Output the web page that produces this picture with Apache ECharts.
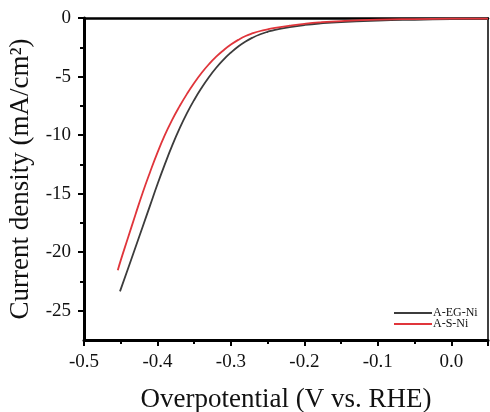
<!DOCTYPE html>
<html>
<head>
<meta charset="utf-8">
<script src="https://cdn.jsdelivr.net/npm/echarts@6/dist/echarts.min.js"></script>
<style>
html, body { margin: 0; padding: 0; background: #fff; }
#chart { width: 490px; height: 412px; }
</style>
</head>
<body>
<div id="chart"></div>
<script>
// A-EG-Ni polarization curve (V vs. RHE, mA/cm2)
let egNiX = [-0.451, -0.44, -0.43, -0.42, -0.41, -0.40, -0.39, -0.38, -0.37, -0.36, -0.35, -0.34, -0.33, -0.32, -0.31, -0.30, -0.29, -0.28, -0.27, -0.26, -0.25, -0.24, -0.22, -0.20, -0.18, -0.15, -0.10, -0.05, 0.0, 0.05]
let egNiY = [-23.35, -21.4, -19.6, -17.8, -16.0, -14.2, -12.5, -10.9, -9.45, -8.15, -7.0, -5.98, -5.06, -4.25, -3.55, -2.95, -2.43, -2.0, -1.66, -1.39, -1.18, -1.01, -0.78, -0.6, -0.47, -0.34, -0.22, -0.15, -0.1, -0.08]
// A-S-Ni
let sNiX = [-0.454, -0.45, -0.44, -0.43, -0.42, -0.41, -0.40, -0.39, -0.38, -0.37, -0.36, -0.35, -0.34, -0.33, -0.32, -0.31, -0.30, -0.29, -0.28, -0.27, -0.26, -0.25, -0.24, -0.22, -0.20, -0.18, -0.15, -0.10, -0.05, 0.0, 0.05]
let sNiY = [-21.55, -20.7, -18.75, -16.8, -14.9, -13.15, -11.5, -10.0, -8.7, -7.55, -6.5, -5.55, -4.7, -3.95, -3.3, -2.75, -2.27, -1.87, -1.54, -1.3, -1.11, -0.97, -0.85, -0.66, -0.5, -0.38, -0.26, -0.14, -0.09, -0.06, -0.05]

let seriesNames = ['A-EG-Ni', 'A-S-Ni']
let seriesColors = ['#3c3c3c', '#e0353b']

// y ticks: labelled majors and unlabelled minors
let yMajor = [0, -5, -10, -15, -20, -25]
let yMinor = [-2.5, -7.5, -12.5, -17.5, -22.5]

let font = '"Liberation Serif", "DejaVu Serif", serif'

let pairs = (xs, ys) => xs.map((x, i) => [x, ys[i]])

let chart = echarts.init(document.getElementById('chart'))
let option = {
	backgroundColor: '#fff',
	animation: false,
	color: seriesColors,
	grid: {
		left: 84,
		top: 18,
		right: 2,
		bottom: 72,
		containLabel: false,
		outerBoundsMode: 'none'
	},
	legend: {
		orient: 'vertical',
		left: 389,
		top: 302,
		itemWidth: 38,
		itemHeight: 2,
		itemGap: -1,
		icon: 'rect',
		textStyle: {
			fontFamily: font,
			fontSize: 12,
			lineHeight: 12,
			color: '#111',
			padding: [0, 0, 0, -4]
		},
		data: seriesNames
	},
	xAxis: [{
			type: 'value',
			min: -0.5,
			max: 0.05,
			interval: 0.1,
			position: 'bottom',
			name: 'Overpotential (V vs. RHE)',
			nameLocation: 'middle',
			nameGap: 46,
			nameTextStyle: {
				fontFamily: font,
				fontSize: 27,
				color: '#111'
			},
			axisLine: {
				show: true,
				onZero: false,
				lineStyle: { color: '#000', width: 3 }
			},
			axisTick: {
				show: true,
				length: 6,
				lineStyle: { color: '#000', width: 2 }
			},
			minorTick: {
				show: true,
				splitNumber: 2,
				length: 4,
				lineStyle: { color: '#000', width: 2 }
			},
			axisLabel: {
				margin: 13,
				fontFamily: font,
				fontSize: 19,
				color: '#111',
				showMaxLabel: false,
				formatter: v => v.toFixed(1)
			},
			splitLine: { show: false }
		},
		{
			type: 'value',
			min: -0.5,
			max: 0.05,
			position: 'top',
			axisLine: {
				show: true,
				onZero: false,
				lineStyle: { color: '#000', width: 2.5 }
			},
			axisTick: { show: false },
			axisLabel: { show: false },
			splitLine: { show: false }
		}
	],
	yAxis: [{
			type: 'value',
			min: -27.5,
			max: 0,
			interval: 2.5,
			position: 'left',
			name: 'Current density (mA/cm²)',
			nameLocation: 'middle',
			nameGap: 40,
			nameTextStyle: {
				fontFamily: font,
				fontSize: 27,
				color: '#111'
			},
			axisLine: {
				show: true,
				onZero: false,
				lineStyle: { color: '#000', width: 3 }
			},
			axisTick: {
				show: true,
				length: 6,
				customValues: yMajor,
				lineStyle: { color: '#000', width: 2 }
			},
			axisLabel: {
				margin: 13,
				fontFamily: font,
				fontSize: 19,
				color: '#111',
				customValues: yMajor
			},
			splitLine: { show: false }
		},
		{
			type: 'value',
			min: -27.5,
			max: 0,
			position: 'right',
			axisLine: {
				show: true,
				onZero: false,
				lineStyle: { color: '#000', width: 1.5 }
			},
			axisTick: { show: false },
			axisLabel: { show: false },
			splitLine: { show: false }
		},
		{
			type: 'value',
			min: -27.5,
			max: 0,
			interval: 2.5,
			position: 'left',
			offset: 0,
			axisLine: { show: false, onZero: false },
			axisTick: {
				show: true,
				length: 4,
				customValues: yMinor,
				lineStyle: { color: '#000', width: 2 }
			},
			axisLabel: { show: false },
			splitLine: { show: false }
		}
	],
	series: [{
			name: seriesNames[0],
			type: 'line',
			smooth: true,
			showSymbol: false,
			lineStyle: { width: 1.8, color: seriesColors[0] },
			data: pairs(egNiX, egNiY)
		},
		{
			name: seriesNames[1],
			type: 'line',
			smooth: true,
			showSymbol: false,
			lineStyle: { width: 1.8, color: seriesColors[1] },
			data: pairs(sNiX, sNiY)
		}
	]
}
chart.setOption(option)
</script>
</body>
</html>
